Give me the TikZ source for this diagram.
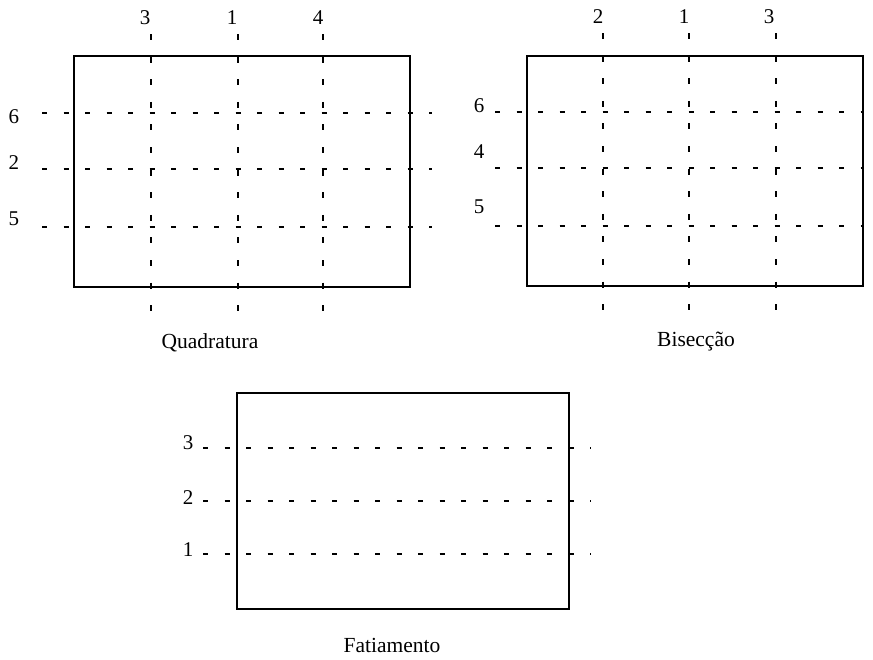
\documentclass[tikz,border=0pt]{standalone}
\usepackage{fontspec}
\setmainfont{Liberation Serif}
\begin{document}
\begin{tikzpicture}[x=1pt,y=-1pt,
  frame/.style={line width=2.6pt},
  hcut/.style={line width=2pt,dash pattern=on 5pt off 16.5pt},
  vcut/.style={line width=2pt,dash pattern=on 6pt off 16.6pt},
  num/.style={inner sep=0pt,font=\fontsize{21}{24}\selectfont},
  caption/.style={inner sep=0pt,anchor=base,font=\fontsize{21.5}{24}\selectfont}]
\useasboundingbox (0,0) rectangle (873,659);

% --- Quadratura ---
\draw[frame] (74,56) rectangle (410,287);
\foreach \y in {113,169,227} \draw[hcut] (42,\y) -- (432,\y);
\foreach \x in {151,238,323} \draw[vcut] (\x,34) -- (\x,314);
\node[num] (q3) at (145,18) {3};
\node[num] (q1) at (232,18) {1};
\node[num] (q4) at (318,18) {4};
\node[num] (q6) at (14,117) {6};
\node[num] (q2) at (14,163) {2};
\node[num] (q5) at (14,219) {5};
\node[caption] (qcap) at (210,348) {Quadratura};

% --- Bisecção ---
\draw[frame] (527,56) rectangle (863,286);
\foreach \y in {112,168,226} \draw[hcut] (495,\y) -- (863,\y);
\foreach \x in {603,689,776} \draw[vcut] (\x,33) -- (\x,313);
\node[num] (b2) at (598,17) {2};
\node[num] (b1) at (684,17) {1};
\node[num] (b3) at (769,17) {3};
\node[num] (b6) at (479,106) {6};
\node[num] (b4) at (479,152) {4};
\node[num] (b5) at (479,207) {5};
\node[caption] (bcap) at (696,346) {Bisecção};

% --- Fatiamento ---
\draw[frame] (237,393) rectangle (569,609);
\foreach \y in {448,501,554} \draw[hcut] (203,\y) -- (591,\y);
\node[num] (f3) at (188,443) {3};
\node[num] (f2) at (188,498) {2};
\node[num] (f1) at (188,550) {1};
\node[caption] (fcap) at (392,652) {Fatiamento};
\end{tikzpicture}
\end{document}
